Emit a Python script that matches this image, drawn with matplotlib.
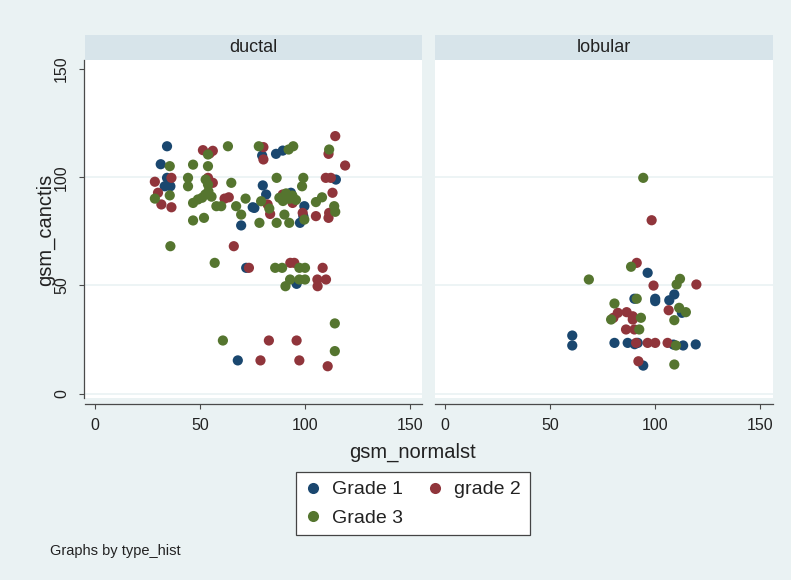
import matplotlib
matplotlib.use("Agg")
import matplotlib.pyplot as plt
from matplotlib.lines import Line2D

plt.rcParams['font.family'] = ['Liberation Sans', 'DejaVu Sans']

# ---- data: gsm_normalst (x) vs gsm_canctis (y), by histology and grade ----
ductal_g1_x = [34.3, 31.3, 34.3, 35.9, 33.2, 79.6, 86.2, 89.4, 79.9, 81.5, 75.1,
               69.6, 93.3, 99.7, 97.6, 99.2, 72.0, 96.0, 114.7, 68.0, 75.9]
ductal_g1_y = [114.3, 106.0, 99.7, 95.8, 95.8, 110.0, 110.8, 112.3, 96.2, 92.0, 86.1,
               77.7, 92.8, 86.6, 78.9, 82.0, 58.1, 50.7, 98.9, 15.3, 85.8]

ductal_g2_x = [28.5, 30.0, 31.6, 36.4, 36.4, 51.4, 56.1, 54.6, 53.8, 56.1, 61.7,
               63.7, 80.2, 80.2, 83.4, 82.2, 89.4, 94.1, 98.9, 105.2, 111.5, 111.2,
               111.2, 114.4, 119.1, 109.9, 112.3, 113.1, 66.1, 73.3, 93.0, 94.9,
               108.4, 105.9, 110.0, 106.0, 82.8, 96.0, 78.8, 97.3, 110.8]
ductal_g2_y = [97.9, 92.8, 87.4, 86.1, 99.7, 112.5, 112.2, 111.0, 99.7, 97.4, 90.1,
               90.7, 113.9, 108.2, 83.0, 87.4, 92.0, 88.1, 83.5, 82.0, 83.5, 81.2,
               110.8, 119.0, 105.4, 99.7, 99.7, 92.8, 68.1, 58.1, 60.4, 60.4,
               58.1, 52.7, 52.7, 49.6, 24.5, 24.5, 15.3, 15.3, 12.6]

ductal_g3_x = [28.5, 35.6, 35.6, 35.9, 44.3, 44.3, 46.7, 46.7, 46.7, 49.0, 51.0,
               52.5, 54.0, 55.5, 53.8, 53.8, 52.7, 53.8, 51.9, 57.8, 60.1, 57.0,
               63.3, 64.9, 67.2, 69.6, 71.7, 60.9, 78.0, 79.1, 83.0, 78.3, 86.5,
               86.5, 90.2, 92.5, 92.2, 94.4, 87.8, 89.5, 91.0, 92.5, 94.0, 95.7,
               85.8, 89.1, 97.3, 100.0, 90.7, 92.9, 97.3, 100.0, 99.2, 98.6, 99.7,
               105.2, 108.1, 111.5, 113.9, 114.4, 114.2, 114.2]
ductal_g3_y = [90.1, 105.1, 91.6, 68.1, 99.7, 95.8, 105.8, 88.1, 80.0, 89.7, 90.5,
               92.0, 93.5, 91.0, 110.5, 105.1, 98.9, 96.6, 81.2, 86.6, 86.6, 60.4,
               114.3, 97.4, 86.6, 82.7, 90.1, 24.5, 114.3, 88.9, 85.5, 78.9, 99.7,
               78.9, 82.7, 78.9, 112.8, 114.3, 90.5, 89.0, 92.5, 90.0, 91.5, 89.5,
               58.1, 58.1, 58.1, 58.1, 49.6, 52.7, 52.7, 52.7, 99.7, 95.8, 80.4,
               88.5, 90.7, 112.8, 86.6, 84.0, 32.4, 19.6]

lobular_g1_x = [96.5, 90.2, 100.1, 100.1, 106.8, 109.2, 112.8, 60.6, 60.6, 80.7,
                87.0, 90.3, 91.8, 108.8, 113.4, 119.4, 94.4]
lobular_g1_y = [55.8, 43.8, 43.8, 42.7, 43.1, 45.8, 37.3, 26.8, 22.2, 23.4,
                23.4, 22.8, 23.4, 22.6, 22.2, 22.7, 12.9]

lobular_g2_x = [98.4, 91.3, 99.3, 119.7, 106.5, 82.3, 86.5, 89.4, 80.2, 89.4,
                90.2, 86.2, 91.0, 96.5, 100.1, 106.0, 92.1]
lobular_g2_y = [80.1, 60.4, 49.9, 50.4, 38.5, 37.3, 37.6, 35.7, 35.0, 34.2,
                29.6, 29.6, 23.4, 23.4, 23.4, 23.4, 14.9]

lobular_g3_x = [94.4, 88.6, 68.5, 111.9, 110.3, 91.3, 80.7, 111.5, 114.7, 93.3,
                79.1, 92.5, 109.2, 110.0, 109.2]
lobular_g3_y = [99.7, 58.6, 52.7, 53.0, 50.4, 43.8, 41.6, 39.6, 37.6, 35.0,
                34.2, 29.6, 33.9, 22.2, 13.4]

panels = ["ductal", "lobular"]
grade_labels = ["Grade 1", "grade 2", "Grade 3"]
ticks = [0, 50, 100, 150]

panel_data = {
    "ductal": [(ductal_g1_x, ductal_g1_y), (ductal_g2_x, ductal_g2_y), (ductal_g3_x, ductal_g3_y)],
    "lobular": [(lobular_g1_x, lobular_g1_y), (lobular_g2_x, lobular_g2_y), (lobular_g3_x, lobular_g3_y)],
}

# stata s2color-like palette
colors = ["#1a476f", "#90353b", "#55752f"]
bg = "#eaf2f3"
strip_col = "#d7e4ea"
axis_col = "#4a4a4a"

W, H = 791, 580
fig = plt.figure(figsize=(W / 100, H / 100), dpi=100, facecolor=bg)


def rect(x0, y0, x1, y1):
    # pixel box (top-left origin) -> figure fraction
    return [x0 / W, 1 - y1 / H, (x1 - x0) / W, (y1 - y0) / H]


boxes = [(85, 422, 95), (435, 773, 445)]   # left px, right px, px of x=0
px_per_x = 2.1
top, bottom = 60, 398
y0_px, px_per_y = 393.5, 2.163

for i, name in enumerate(panels):
    l, r, zero = boxes[i]
    ax = fig.add_axes(rect(l, top, r, bottom), facecolor="white")
    ax.set_xlim(-(zero - l) / px_per_x, (r - zero) / px_per_x)
    ax.set_ylim(-(bottom - y0_px) / px_per_y, (y0_px - top) / px_per_y)

    for g in [0, 50, 100]:
        ax.axhline(g, color=bg, lw=1.2, zorder=0)

    for k, (xs, ys) in enumerate(panel_data[name]):
        ax.scatter(xs, ys, s=54, color=colors[k], edgecolors="none",
                   zorder=2 + k, label=grade_labels[k])

    ax.spines["top"].set_visible(False)
    ax.spines["right"].set_visible(False)
    ax.spines["bottom"].set_position(("outward", 4.3))
    ax.spines["bottom"].set_color(axis_col)
    ax.spines["bottom"].set_linewidth(0.9)
    ax.set_xticks(ticks)
    ax.set_yticks(ticks)
    ax.tick_params(axis="x", length=3.8, width=0.8, color=axis_col,
                   labelsize=11.5, pad=6.5, labelcolor="#222222")
    if i == 0:
        ax.spines["left"].set_position(("outward", 0.8))
        ax.spines["left"].set_color(axis_col)
        ax.spines["left"].set_linewidth(0.9)
        ax.tick_params(axis="y", length=3.8, width=0.8, color=axis_col,
                       labelsize=11.5, pad=7, labelcolor="#222222")
        for lab in ax.get_yticklabels():
            lab.set_rotation(90)
            lab.set_va("center")
    else:
        ax.spines["left"].set_visible(False)
        ax.tick_params(axis="y", left=False, labelleft=False)

    # panel header strip
    sax = fig.add_axes(rect(l, 35, r, 60), facecolor=strip_col)
    sax.set_xticks([])
    sax.set_yticks([])
    for s in sax.spines.values():
        s.set_visible(False)
    sax.text(0.5, 0.5, name, ha="center", va="center", fontsize=13,
             color="#222222", transform=sax.transAxes)

fig.text(45 / W, 1 - 230 / H, "gsm_canctis", rotation=90, ha="center",
         va="center", fontsize=14.5, color="#222222")
fig.text(413 / W, 1 - 452 / H, "gsm_normalst", ha="center", va="center",
         fontsize=14.5, color="#222222")

# legend rows: Grade 1 / grade 2 on top, Grade 3 below
leg_handles = [Line2D([], [], ls="none", marker="o", markersize=8,
                      markerfacecolor=c, markeredgecolor="none") for c in colors]
order = [0, 2, 1]
leg = fig.legend([leg_handles[j] for j in order], [grade_labels[j] for j in order],
                 ncol=2, loc="upper center", bbox_to_anchor=(413 / W, 1 - 472 / H),
                 fontsize=14, frameon=True, fancybox=False, edgecolor="#444444",
                 facecolor="white", framealpha=1, handlelength=0.8,
                 handletextpad=0.6, columnspacing=1.2, borderpad=0.45,
                 labelspacing=0.55, borderaxespad=0)
leg.get_frame().set_linewidth(0.9)
for t in leg.get_texts():
    t.set_color("#222222")

fig.text(50 / W, 1 - 551 / H, "Graphs by type_hist", ha="left", va="center",
         fontsize=10.5, color="#222222")

fig.savefig("out.png", dpi=100, facecolor=bg)
